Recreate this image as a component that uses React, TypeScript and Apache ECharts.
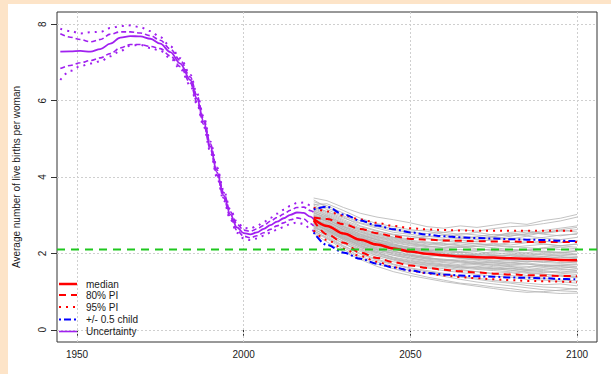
import React, { useEffect, useRef } from "react";
import * as echarts from "echarts";

// ---------- data ----------
const histYears = [1945, 1948, 1951, 1954, 1957, 1960, 1963, 1966, 1969, 1972, 1975, 1978, 1981, 1984, 1986, 1988, 1990, 1992, 1994, 1996, 1998, 2000, 2002, 2004, 2006, 2008, 2010, 2012, 2014, 2016, 2018, 2020, 2021];
const histMedian = [7.28, 7.29, 7.30, 7.28, 7.35, 7.49, 7.65, 7.69, 7.68, 7.62, 7.49, 7.27, 6.97, 6.54, 6.05, 5.45, 4.80, 4.12, 3.52, 3.02, 2.68, 2.53, 2.50, 2.55, 2.64, 2.74, 2.83, 2.92, 3.01, 3.07, 3.06, 2.96, 2.90];
const histUp80 = [7.75, 7.66, 7.60, 7.54, 7.60, 7.74, 7.80, 7.80, 7.77, 7.70, 7.58, 7.35, 7.05, 6.62, 6.13, 5.52, 4.87, 4.19, 3.59, 3.09, 2.76, 2.61, 2.58, 2.64, 2.73, 2.84, 2.94, 3.03, 3.13, 3.20, 3.21, 3.12, 3.08];
const histUp95 = [7.88, 7.82, 7.76, 7.79, 7.80, 7.90, 7.95, 7.97, 7.92, 7.82, 7.66, 7.42, 7.11, 6.68, 6.19, 5.58, 4.93, 4.25, 3.65, 3.15, 2.82, 2.67, 2.65, 2.72, 2.82, 2.93, 3.04, 3.14, 3.24, 3.32, 3.33, 3.26, 3.22];
const histLo80 = [6.84, 6.92, 6.99, 7.05, 7.12, 7.23, 7.38, 7.47, 7.47, 7.42, 7.36, 7.17, 6.89, 6.46, 5.97, 5.38, 4.73, 4.05, 3.45, 2.95, 2.60, 2.45, 2.41, 2.46, 2.54, 2.63, 2.72, 2.80, 2.88, 2.93, 2.90, 2.78, 2.72];
const histLo95 = [6.54, 6.78, 6.90, 6.97, 7.03, 7.16, 7.30, 7.44, 7.46, 7.38, 7.30, 7.11, 6.83, 6.40, 5.91, 5.32, 4.67, 3.99, 3.39, 2.89, 2.54, 2.39, 2.35, 2.39, 2.46, 2.54, 2.62, 2.69, 2.77, 2.81, 2.77, 2.64, 2.58];

const projYears = [2021, 2025, 2030, 2035, 2040, 2045, 2050, 2055, 2060, 2065, 2070, 2075, 2080, 2085, 2090, 2095, 2100];
const projMedian = [2.90, 2.72, 2.52, 2.36, 2.23, 2.13, 2.05, 1.99, 1.95, 1.92, 1.90, 1.89, 1.87, 1.86, 1.85, 1.83, 1.82];
const projUp80 = [2.94, 2.90, 2.76, 2.64, 2.53, 2.45, 2.38, 2.36, 2.34, 2.33, 2.32, 2.31, 2.31, 2.30, 2.30, 2.30, 2.30];
const projLo80 = [2.86, 2.50, 2.28, 2.02, 1.88, 1.77, 1.68, 1.62, 1.57, 1.53, 1.50, 1.47, 1.45, 1.43, 1.42, 1.41, 1.40];
const projUp95 = [3.20, 3.10, 2.99, 2.89, 2.80, 2.72, 2.66, 2.63, 2.61, 2.60, 2.59, 2.59, 2.59, 2.59, 2.59, 2.59, 2.59];
const projLo95 = [2.60, 2.35, 2.12, 1.93, 1.78, 1.64, 1.55, 1.48, 1.42, 1.38, 1.35, 1.32, 1.30, 1.28, 1.27, 1.26, 1.25];
const halfChildUp = [3.15, 3.22, 3.02, 2.86, 2.73, 2.63, 2.55, 2.49, 2.45, 2.42, 2.40, 2.39, 2.37, 2.36, 2.35, 2.33, 2.32];
const halfChildLo = [2.55, 2.22, 2.02, 1.86, 1.73, 1.63, 1.55, 1.49, 1.45, 1.42, 1.40, 1.39, 1.37, 1.36, 1.35, 1.33, 1.32];

const trajectories: number[][] = [
  [3.05, 2.95, 2.80, 2.62, 2.55, 2.42, 2.38, 2.45, 2.40, 2.52, 2.48, 2.44, 2.55, 2.60, 2.52, 2.58, 2.62],
  [2.95, 2.85, 2.62, 2.40, 2.30, 2.18, 2.10, 2.05, 1.98, 1.92, 1.95, 1.88, 1.85, 1.90, 1.86, 1.80, 1.84],
  [2.80, 2.62, 2.40, 2.22, 2.05, 1.95, 1.88, 1.80, 1.76, 1.70, 1.74, 1.68, 1.65, 1.62, 1.70, 1.66, 1.60],
  [3.20, 3.10, 2.92, 2.78, 2.66, 2.55, 2.50, 2.44, 2.48, 2.40, 2.36, 2.42, 2.38, 2.45, 2.40, 2.36, 2.42],
  [2.70, 2.55, 2.30, 2.10, 1.95, 1.82, 1.72, 1.65, 1.60, 1.55, 1.52, 1.48, 1.50, 1.42, 1.38, 1.44, 1.40],
  [2.88, 2.78, 2.58, 2.45, 2.30, 2.22, 2.15, 2.08, 2.10, 2.02, 2.05, 1.98, 2.02, 1.95, 2.00, 2.04, 1.98],
  [3.10, 2.98, 2.70, 2.50, 2.38, 2.25, 2.12, 2.05, 2.00, 1.95, 1.98, 2.05, 2.10, 2.08, 2.15, 2.20, 2.25],
  [2.75, 2.60, 2.42, 2.30, 2.15, 2.05, 1.95, 1.90, 1.82, 1.78, 1.72, 1.70, 1.66, 1.58, 1.55, 1.50, 1.52],
  [2.92, 2.80, 2.55, 2.35, 2.20, 2.10, 2.02, 1.96, 1.92, 1.88, 1.85, 1.82, 1.80, 1.78, 1.80, 1.76, 1.75],
  [3.30, 3.15, 2.95, 2.72, 2.60, 2.48, 2.45, 2.40, 2.32, 2.28, 2.25, 2.22, 2.28, 2.30, 2.25, 2.20, 2.24],
  [2.65, 2.45, 2.20, 2.00, 1.85, 1.72, 1.62, 1.55, 1.48, 1.40, 1.35, 1.30, 1.25, 1.22, 1.18, 1.20, 1.15],
  [2.85, 2.70, 2.48, 2.30, 2.18, 2.05, 1.98, 1.92, 1.95, 1.98, 1.92, 1.95, 1.90, 1.96, 1.92, 1.88, 1.90],
  [3.00, 2.88, 2.65, 2.50, 2.35, 2.28, 2.20, 2.15, 2.12, 2.10, 2.08, 2.12, 2.06, 2.10, 2.14, 2.10, 2.08],
  [2.78, 2.60, 2.35, 2.15, 2.02, 1.90, 1.82, 1.75, 1.70, 1.65, 1.60, 1.58, 1.62, 1.55, 1.58, 1.60, 1.56],
  [3.40, 3.20, 2.98, 2.80, 2.70, 2.60, 2.55, 2.52, 2.55, 2.62, 2.58, 2.65, 2.70, 2.72, 2.78, 2.85, 2.95],
  [2.60, 2.40, 2.15, 1.92, 1.78, 1.65, 1.55, 1.48, 1.40, 1.32, 1.25, 1.20, 1.15, 1.10, 1.05, 1.02, 1.00],
  [2.90, 2.76, 2.52, 2.38, 2.25, 2.15, 2.08, 2.00, 1.95, 1.90, 1.85, 1.80, 1.76, 1.72, 1.68, 1.70, 1.72],
  [3.08, 2.92, 2.72, 2.55, 2.42, 2.32, 2.25, 2.18, 2.20, 2.15, 2.18, 2.22, 2.18, 2.15, 2.12, 2.16, 2.12],
  [2.72, 2.58, 2.38, 2.20, 2.08, 2.00, 1.92, 1.85, 1.80, 1.82, 1.78, 1.75, 1.72, 1.75, 1.70, 1.68, 1.65],
  [2.98, 2.82, 2.60, 2.42, 2.28, 2.18, 2.12, 2.08, 2.05, 2.02, 2.00, 1.96, 1.94, 1.90, 1.92, 1.95, 1.92],
  [2.82, 2.66, 2.45, 2.25, 2.10, 1.98, 1.88, 1.82, 1.78, 1.75, 1.70, 1.65, 1.60, 1.55, 1.52, 1.48, 1.45],
  [3.15, 3.00, 2.78, 2.60, 2.48, 2.38, 2.30, 2.28, 2.24, 2.20, 2.18, 2.15, 2.10, 2.08, 2.05, 2.02, 2.05],
  [2.68, 2.52, 2.32, 2.12, 1.98, 1.85, 1.75, 1.70, 1.68, 1.62, 1.58, 1.55, 1.52, 1.48, 1.45, 1.42, 1.38],
  [2.94, 2.84, 2.62, 2.48, 2.35, 2.22, 2.15, 2.12, 2.08, 2.05, 2.10, 2.08, 2.05, 2.00, 1.98, 1.96, 1.98],
  [2.84, 2.68, 2.46, 2.28, 2.12, 2.02, 1.95, 1.88, 1.85, 1.80, 1.76, 1.78, 1.75, 1.80, 1.78, 1.82, 1.80],
  [3.22, 3.05, 2.85, 2.66, 2.52, 2.40, 2.32, 2.25, 2.22, 2.28, 2.32, 2.35, 2.40, 2.36, 2.42, 2.48, 2.50],
  [2.62, 2.48, 2.25, 2.05, 1.90, 1.78, 1.70, 1.62, 1.55, 1.50, 1.45, 1.40, 1.38, 1.32, 1.30, 1.26, 1.22],
  [2.90, 2.74, 2.50, 2.32, 2.20, 2.10, 2.02, 1.98, 1.92, 1.88, 1.84, 1.86, 1.82, 1.80, 1.76, 1.74, 1.78],
  [2.76, 2.62, 2.40, 2.18, 2.05, 1.95, 1.85, 1.78, 1.72, 1.68, 1.66, 1.62, 1.60, 1.58, 1.62, 1.58, 1.55],
  [3.02, 2.90, 2.68, 2.52, 2.40, 2.30, 2.22, 2.18, 2.15, 2.18, 2.12, 2.08, 2.05, 2.08, 2.02, 2.00, 1.96],
  [2.55, 2.38, 2.10, 1.88, 1.72, 1.60, 1.48, 1.38, 1.30, 1.22, 1.18, 1.12, 1.08, 1.02, 0.98, 0.95, 0.96],
  [3.12, 2.96, 2.75, 2.58, 2.45, 2.36, 2.28, 2.22, 2.30, 2.35, 2.30, 2.38, 2.45, 2.52, 2.60, 2.66, 2.72],
  [3.35, 3.25, 3.05, 2.85, 2.72, 2.65, 2.58, 2.62, 2.55, 2.50, 2.55, 2.48, 2.52, 2.46, 2.55, 2.60, 2.56],
  [2.86, 2.65, 2.42, 2.26, 2.14, 2.06, 1.96, 1.88, 1.82, 1.86, 1.82, 1.76, 1.70, 1.72, 1.66, 1.62, 1.64],
  [3.06, 2.90, 2.66, 2.46, 2.36, 2.24, 2.16, 2.10, 2.02, 1.96, 1.90, 1.92, 1.96, 2.00, 1.96, 1.92, 1.88],
  [2.72, 2.50, 2.26, 2.08, 1.94, 1.84, 1.78, 1.72, 1.66, 1.62, 1.64, 1.60, 1.56, 1.50, 1.46, 1.40, 1.36],
  [2.96, 2.88, 2.70, 2.56, 2.44, 2.34, 2.26, 2.20, 2.14, 2.16, 2.22, 2.26, 2.22, 2.28, 2.32, 2.28, 2.34],
  [2.80, 2.66, 2.44, 2.20, 2.02, 1.88, 1.76, 1.68, 1.64, 1.58, 1.52, 1.46, 1.42, 1.38, 1.34, 1.30, 1.28],
  [3.18, 3.02, 2.82, 2.64, 2.50, 2.42, 2.34, 2.30, 2.26, 2.22, 2.26, 2.20, 2.16, 2.20, 2.24, 2.20, 2.16],
  [2.90, 2.70, 2.48, 2.34, 2.22, 2.12, 2.04, 1.98, 1.96, 1.94, 1.98, 2.02, 1.98, 2.02, 2.06, 2.02, 2.06],
  [2.66, 2.56, 2.36, 2.16, 2.00, 1.88, 1.80, 1.74, 1.70, 1.66, 1.62, 1.60, 1.56, 1.52, 1.50, 1.54, 1.50],
  [3.00, 2.84, 2.62, 2.44, 2.32, 2.20, 2.14, 2.06, 2.00, 1.96, 1.94, 1.90, 1.86, 1.84, 1.86, 1.82, 1.86],
  [3.26, 3.08, 2.88, 2.70, 2.58, 2.50, 2.44, 2.38, 2.36, 2.40, 2.44, 2.50, 2.46, 2.50, 2.54, 2.62, 2.68],
  [2.58, 2.42, 2.18, 1.98, 1.82, 1.70, 1.60, 1.52, 1.45, 1.38, 1.32, 1.26, 1.22, 1.16, 1.12, 1.10, 1.06],
  [2.88, 2.74, 2.56, 2.40, 2.28, 2.16, 2.10, 2.04, 2.00, 2.04, 1.98, 1.94, 1.96, 1.92, 1.88, 1.90, 1.86],
  [2.78, 2.62, 2.38, 2.24, 2.10, 2.00, 1.92, 1.86, 1.84, 1.78, 1.74, 1.72, 1.68, 1.66, 1.64, 1.68, 1.70],
  [3.45, 3.38, 3.20, 3.05, 2.95, 2.88, 2.80, 2.70, 2.66, 2.72, 2.68, 2.74, 2.80, 2.76, 2.86, 2.92, 3.02],
  [3.28, 3.30, 3.12, 2.92, 2.78, 2.70, 2.62, 2.58, 2.50, 2.46, 2.40, 2.44, 2.50, 2.56, 2.50, 2.46, 2.52],
  [2.52, 2.30, 2.04, 1.84, 1.66, 1.52, 1.42, 1.34, 1.26, 1.20, 1.14, 1.08, 1.02, 0.98, 1.00, 1.04, 1.08],
];

const xTicks = [1950, 2000, 2050, 2100];
const yTicks = [0, 2, 4, 6, 8];
const replacementLevel = 2.1;
const yTitle = "Average number of live births per woman";
const legendLabels = ["median", "80% PI", "95% PI", "+/- 0.5 child", "Uncertainty"];

// ---------- styles ----------
const FONT = "'Liberation Sans', Arial, sans-serif";
const RED = "#ff0000";
const BLUE = "#0000ff";
const PURPLE = "#a020f0";
const GREEN = "#1fc71f";
const GRAY = "#b4b4b4";
const DASH = [7, 5];
const DOT = [2, 5];
const DASHDOT = [2, 3, 7, 3];

const pairs = (xs: number[], ys: number[]) => xs.map((x, i) => [x, ys[i]]);

function lineSeries(xs: number[], ys: number[], color: string, width: number, type: any, z: number, smooth: number | boolean = 0.35) {
  return {
    type: "line",
    data: pairs(xs, ys),
    showSymbol: false,
    symbol: "none",
    silent: true,
    smooth,
    smoothMonotone: "x",
    z,
    lineStyle: { color, width, type },
  };
}

export default function App() {
  const ref = useRef<HTMLDivElement>(null);

  useEffect(() => {
    document.body.style.margin = "0";
    if (!ref.current) return;
    const chart = echarts.init(ref.current, undefined, { renderer: "svg" });

    const series: any[] = [];
    series.push({
      type: "line",
      data: [],
      silent: true,
      z: 1,
      markLine: {
        silent: true,
        symbol: ["none", "none"],
        label: { show: false },
        lineStyle: { color: "#cfcfcf", type: [2, 2], width: 1 },
        data: [...xTicks.map((v) => ({ xAxis: v })), ...yTicks.map((v) => ({ yAxis: v }))],
      },
    });
    trajectories.forEach((t) => series.push(lineSeries(projYears, t, GRAY, 0.8, "solid", 2, false)));
    series.push(lineSeries(histYears, histUp95, PURPLE, 2, DOT, 5));
    series.push(lineSeries(histYears, histLo95, PURPLE, 2, DOT, 5));
    series.push(lineSeries(histYears, histUp80, PURPLE, 1.6, [5, 3], 5));
    series.push(lineSeries(histYears, histLo80, PURPLE, 1.6, [5, 3], 5));
    series.push(lineSeries(histYears, histMedian, PURPLE, 1.8, "solid", 6));
    series.push(lineSeries(projYears, projUp95, RED, 2, DOT, 7));
    series.push(lineSeries(projYears, projLo95, RED, 2, DOT, 7));
    series.push(lineSeries(projYears, projUp80, RED, 2, DASH, 7));
    series.push(lineSeries(projYears, projLo80, RED, 2, DASH, 7));
    series.push(lineSeries(projYears, halfChildUp, BLUE, 2, DASHDOT, 8));
    series.push(lineSeries(projYears, halfChildLo, BLUE, 2, DASHDOT, 8));
    series.push(lineSeries(projYears, projMedian, RED, 2.5, "solid", 9));
    series.push(lineSeries([1944, 2106], [replacementLevel, replacementLevel], GREEN, 2, [8, 6], 10, false));

    const legendStyles = [
      { stroke: RED, lineWidth: 2.5 },
      { stroke: RED, lineWidth: 2, lineDash: DASH },
      { stroke: RED, lineWidth: 2, lineDash: DOT },
      { stroke: BLUE, lineWidth: 2, lineDash: DASHDOT },
      { stroke: PURPLE, lineWidth: 1.6 },
    ];
    const legendY = [280, 291, 303, 315.5, 327.5];
    const graphics: any[] = [
      {
        type: "text",
        x: 8,
        y: 173,
        rotation: Math.PI / 2,
        style: { text: yTitle, fontSize: 10, fill: "#1a1a1a", align: "center", verticalAlign: "middle", fontFamily: FONT },
        z: 20,
      },
    ];
    legendLabels.forEach((lab, i) => {
      graphics.push({ type: "line", shape: { x1: 51, y1: legendY[i], x2: 69, y2: legendY[i] }, style: legendStyles[i], z: 20 });
      graphics.push({
        type: "text",
        x: 78,
        y: legendY[i],
        style: { text: lab, fontSize: 10, fill: "#1a1a1a", align: "left", verticalAlign: "middle", fontFamily: FONT },
        z: 20,
      });
    });

    chart.setOption({
      animation: false,
      backgroundColor: "#ffffff",
      grid: { left: 49, top: 8, right: 14, bottom: 32, show: true, borderColor: "#333", borderWidth: 1, backgroundColor: "transparent" },
      xAxis: {
        type: "value",
        min: 1944,
        max: 2106,
        axisLine: { show: false },
        axisTick: { show: true, customValues: xTicks, length: 6, lineStyle: { color: "#333" } },
        axisLabel: { customValues: xTicks, fontSize: 10, color: "#1a1a1a", margin: 7, fontFamily: FONT, formatter: (v: number) => String(v) },
        splitLine: { show: false },
      },
      yAxis: {
        type: "value",
        min: -0.32,
        max: 8.32,
        axisLine: { show: false },
        axisTick: { show: true, customValues: yTicks, length: 6, lineStyle: { color: "#333" } },
        axisLabel: { customValues: yTicks, fontSize: 10, color: "#1a1a1a", margin: 10, rotate: 90, fontFamily: FONT, formatter: (v: number) => String(v) },
        splitLine: { show: false },
      },
      graphic: graphics,
      series,
    });
    return () => chart.dispose();
  }, []);

  return (
    <div style={{ position: "relative", width: 611, height: 374, background: "#fde4c8", overflow: "hidden" }}>
      <div ref={ref} style={{ position: "absolute", left: 8, top: 4, width: 603, height: 370, background: "#ffffff" }} />
    </div>
  );
}
